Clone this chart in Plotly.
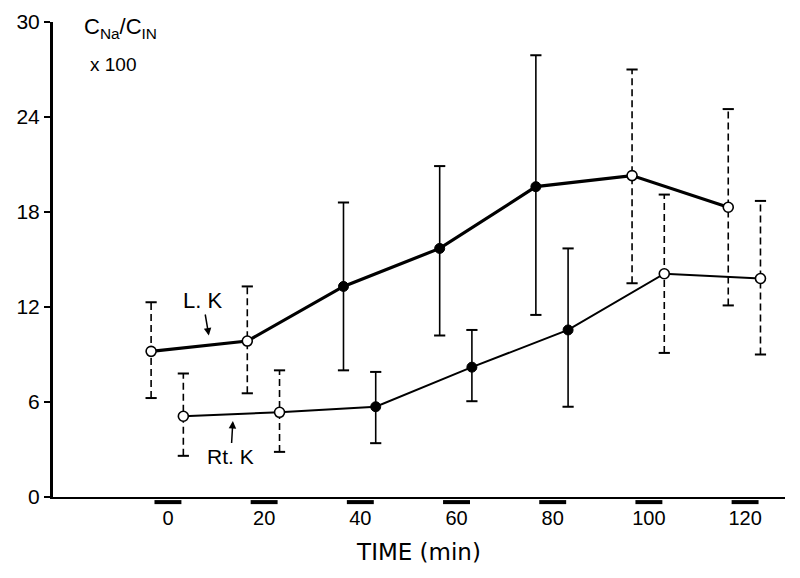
import plotly.graph_objects as go

# ---- data ----
times = [0, 20, 40, 60, 80, 100, 120]
filled = [False, False, True, True, True, False, False]

lk_mean = [9.2, 9.85, 13.3, 15.7, 19.6, 20.3, 18.3]
lk_hi = [12.3, 13.3, 18.6, 20.9, 27.9, 27.0, 24.5]
lk_lo = [6.25, 6.55, 8.0, 10.2, 11.5, 13.5, 12.1]

rk_mean = [5.1, 5.35, 5.7, 8.2, 10.55, 14.1, 13.8]
rk_hi = [7.8, 8.0, 7.9, 10.55, 15.7, 19.1, 18.7]
rk_lo = [2.6, 2.85, 3.4, 6.05, 5.7, 9.1, 9.0]

x_tick_vals = [0, 20, 40, 60, 80, 100, 120]
x_tick_text = ["0", "20", "40", "60", "80", "100", "120"]
y_tick_vals = [0, 6, 12, 18, 24, 30]
y_tick_text = ["0", "6", "12", "18", "24", "30"]

LK_SHIFT = -3.5
RK_SHIFT = 3.2
PERIOD_HALF = 2.8
FONT = "Liberation Sans"

fig = go.Figure()


def add_series(mean, hi, lo, shift, lw):
    xs = [t + shift for t in times]
    # error bars: dashed for open points, solid for filled points
    for is_filled, dash in ((False, "7px,4px"), (True, "solid")):
        ex, ey, cx, cy = [], [], [], []
        for x, h, l, f in zip(xs, hi, lo, filled):
            if f == is_filled:
                ex += [x, x, None]
                ey += [l, h, None]
                cx += [x, x]
                cy += [l, h]
        fig.add_trace(go.Scatter(x=ex, y=ey, mode="lines",
                                 line=dict(color="black", width=1.6, dash=dash),
                                 hoverinfo="skip", showlegend=False))
        fig.add_trace(go.Scatter(x=cx, y=cy, mode="markers",
                                 marker=dict(symbol="line-ew", size=8,
                                             line=dict(color="black", width=2)),
                                 hoverinfo="skip", showlegend=False))
    fig.add_trace(go.Scatter(x=xs, y=mean, mode="lines",
                             line=dict(color="black", width=lw),
                             showlegend=False))
    ox = [x for x, f in zip(xs, filled) if not f]
    oy = [m for m, f in zip(mean, filled) if not f]
    fx = [x for x, f in zip(xs, filled) if f]
    fy = [m for m, f in zip(mean, filled) if f]
    fig.add_trace(go.Scatter(x=ox, y=oy, mode="markers",
                             marker=dict(symbol="circle", size=10, color="white",
                                         line=dict(color="black", width=1.6)),
                             showlegend=False))
    fig.add_trace(go.Scatter(x=fx, y=fy, mode="markers",
                             marker=dict(symbol="circle", size=10, color="black",
                                         line=dict(color="black", width=1)),
                             showlegend=False))


add_series(lk_mean, lk_hi, lk_lo, LK_SHIFT, 3.2)
add_series(rk_mean, rk_hi, rk_lo, RK_SHIFT, 2.0)

# collection-period bars just under the time axis
shapes = [dict(type="rect", xref="x", yref="paper",
               x0=t - PERIOD_HALF, x1=t + PERIOD_HALF, y0=-0.015, y1=-0.0065,
               fillcolor="black", line=dict(width=0))
          for t in x_tick_vals]

# the page adds an 8px body offset, so margins are reduced on the left/top
fig.update_layout(
    width=800, height=578,
    margin=dict(l=45, r=23, t=14, b=89),
    plot_bgcolor="white", paper_bgcolor="white",
    font=dict(family=FONT, color="black"),
    shapes=shapes,
    xaxis=dict(range=[-23.9, 128.3], showgrid=False, zeroline=False, automargin=False,
               showline=True, linecolor="black", linewidth=2,
               tickmode="array", tickvals=x_tick_vals, ticktext=x_tick_text,
               ticks="", ticklabelstandoff=2,
               tickfont=dict(family=FONT, size=20, color="black"),
               title=dict(text="TIME (min)", standoff=16,
                          font=dict(family="DejaVu Sans", size=23, color="black"))),
    yaxis=dict(range=[0, 30], showgrid=False, zeroline=False, automargin=False,
               showline=True, linecolor="black", linewidth=3,
               tickmode="array", tickvals=y_tick_vals, ticktext=y_tick_text,
               ticks="outside", ticklen=6, tickwidth=2, tickcolor="black",
               tickfont=dict(family=FONT, size=21, color="black")),
    annotations=[
        dict(x=-17.9, y=29.6, xref="x", yref="y", xanchor="left", showarrow=False,
             text="C<sub>Na</sub>/C<sub>IN</sub>", font=dict(size=22, family=FONT, color="black")),
        dict(x=-16.6, y=27.3, xref="x", yref="y", xanchor="left", showarrow=False,
             text="x 100", font=dict(size=19, family=FONT, color="black")),
        dict(x=8.5, y=10.2, xref="x", yref="y", text="L. K", showarrow=True,
             ax=-6, ay=-35, arrowhead=2, arrowsize=1, arrowwidth=1.5, arrowcolor="black",
             font=dict(size=22, family=FONT, color="black")),
        dict(x=13.5, y=4.8, xref="x", yref="y", text="Rt. K", showarrow=True,
             ax=-2, ay=35, arrowhead=2, arrowsize=1, arrowwidth=1.5, arrowcolor="black",
             font=dict(size=21, family=FONT, color="black")),
    ],
)

fig.write_html("out.html")
